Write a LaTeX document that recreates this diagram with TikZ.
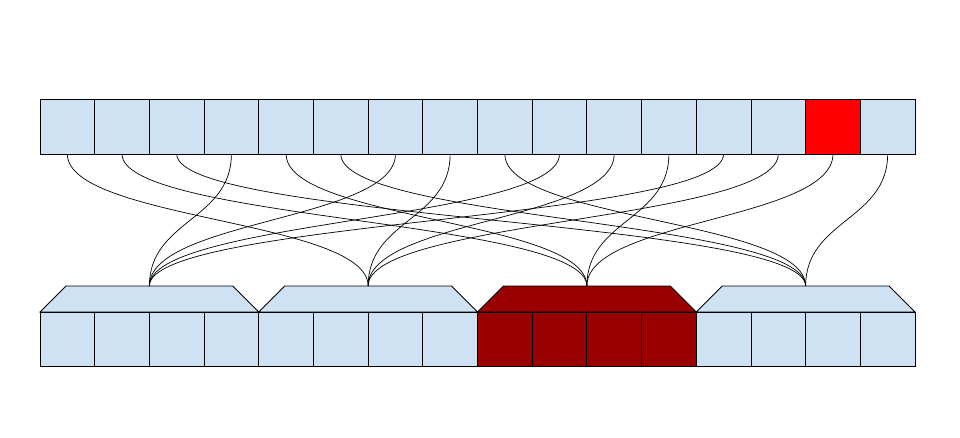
\documentclass[tikz,border=0pt]{standalone}
\usetikzlibrary{calc}
\definecolor{cellblue}{HTML}{CFE2F3}
\definecolor{hotred}{HTML}{FF0000}
\definecolor{darkred}{HTML}{990000}
\tikzset{
  cellbox/.style={draw=black, line width=0.8pt, fill=cellblue, minimum width=54.6875pt, inner sep=0pt, outer sep=0pt},
  topcell/.style={cellbox, minimum height=55pt},
  botcell/.style={cellbox, minimum height=54pt},
  grouphead/.style={draw=black, line width=0.8pt, fill=cellblue, line join=miter},
  link/.style={draw=black, line width=0.7pt}
}
\begin{document}
\begin{tikzpicture}[x=1pt,y=1pt]
\useasboundingbox (0,0) rectangle (960,-437);
% top row
\foreach \i in {0,...,15}{
  \node[topcell] (t\i) at ({40+54.6875*(\i+0.5)},-126.5) {};
}
\node[topcell, fill=hotred] (t14) at ({40+54.6875*14.5},-126.5) {};
% group headers
\foreach \g/\c in {0/cellblue,1/cellblue,2/darkred,3/cellblue}{
  \pgfmathsetmacro{\L}{40+218.75*\g}
  \pgfmathsetmacro{\R}{\L+218.75}
  \draw[grouphead, fill=\c] (\L,-312) -- (\L+26,-286) -- (\R-26,-286) -- (\R,-312) -- cycle;
  \coordinate (g\g) at ({\L+109.375},-286);
}
% bottom row
\foreach \i in {0,...,15}{
  \pgfmathtruncatemacro{\grp}{\i/4}
  \ifnum\grp=2
    \node[botcell, fill=darkred] (b\i) at ({40+54.6875*(\i+0.5)},-339) {};
  \else
    \node[botcell] (b\i) at ({40+54.6875*(\i+0.5)},-339) {};
  \fi
}
% connectors
\foreach \i/\g in {0/1,1/2,2/3,3/0,4/2,5/3,6/0,7/1,8/3,9/0,10/1,11/2,12/0,13/1,14/2,15/3}{
  \draw[link] (t\i.south) .. controls ($(t\i.south)+(0,-66)$) and ($(g\g)+(0,66)$) .. (g\g);
}
\end{tikzpicture}
\end{document}
